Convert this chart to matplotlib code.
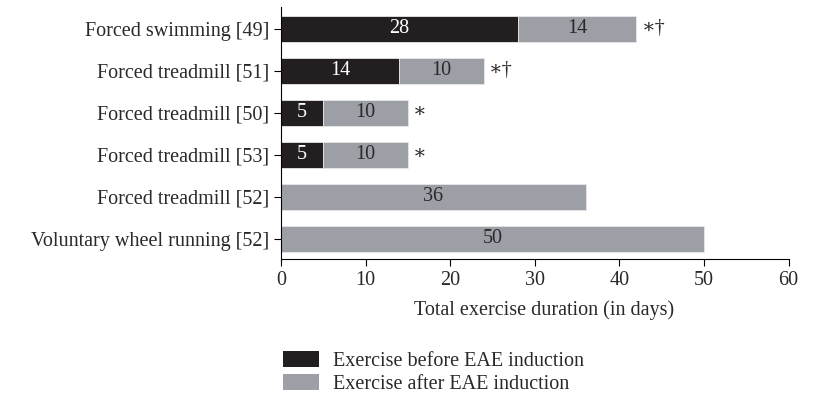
import numpy as np
import matplotlib.pyplot as plt
from matplotlib.patches import Patch

plt.rcParams['font.family'] = ['Liberation Serif', 'DejaVu Serif']

studies = ["Forced swimming [49]", "Forced treadmill [51]",
           "Forced treadmill [50]", "Forced treadmill [53]",
           "Forced treadmill [52]", "Voluntary wheel running [52]"]
before = [28, 14, 5, 5, 0, 0]
after = [14, 10, 10, 10, 36, 50]
marks = ["\u2217\u2020", "\u2217\u2020", "\u2217", "\u2217", "", ""]

c_before = "#231f20"
c_after = "#9d9fa6"
c_text = "#2b2829"
fs = 14.5


def main():
    fig = plt.figure(figsize=(8.16, 4), dpi=100)
    ax = fig.add_axes([0.3444, 0.3525, 0.622, 0.63])
    y = np.arange(len(studies))[::-1]
    b = np.array(before)
    a = np.array(after)
    ax.barh(y, b, height=0.62, color=c_before, edgecolor="#e6e6e6",
            linewidth=0.6)
    ax.barh(y, a, left=b, height=0.62, color=c_after, edgecolor="#e6e6e6",
            linewidth=0.6)
    for yi, bi, ai, m in zip(y, b, a, marks):
        if bi > 0:
            ax.text(bi / 2, yi, str(bi), color="white", ha="center",
                    va="center", fontsize=fs)
        ax.text(bi + ai / 2, yi, str(ai), color=c_text, ha="center",
                va="center", fontsize=fs)
        if m:
            ax.text(bi + ai + 0.6, yi, m, color=c_text, ha="left",
                    va="center", fontsize=fs)
    ax.set_xlim(0, 60)
    ax.set_ylim(-0.48, 5.52)
    ax.set_yticks(y)
    ax.set_yticklabels(studies, fontsize=fs, color=c_text)
    ax.set_xticks(range(0, 61, 10))
    ax.tick_params(axis="x", labelsize=fs, labelcolor=c_text, length=5,
                   direction="out")
    ax.tick_params(axis="y", length=5, direction="out")
    ax.spines["top"].set_visible(False)
    ax.spines["right"].set_visible(False)
    ax.set_xlabel("Total exercise duration (in days)", fontsize=fs,
                  color=c_text)
    ax.xaxis.set_label_coords(0.518, -0.165)
    handles = [Patch(facecolor=c_before, label="Exercise before EAE induction"),
               Patch(facecolor=c_after, label="Exercise after EAE induction")]
    fig.legend(handles=handles, loc="upper left",
               bbox_to_anchor=(0.337, 0.142), frameon=False, fontsize=fs,
               handlelength=1.8, handleheight=0.85, labelspacing=0.15,
               handletextpad=0.7, borderaxespad=0, labelcolor=c_text)
    fig.savefig("out.png", dpi=100)


if __name__ == "__main__":
    main()
